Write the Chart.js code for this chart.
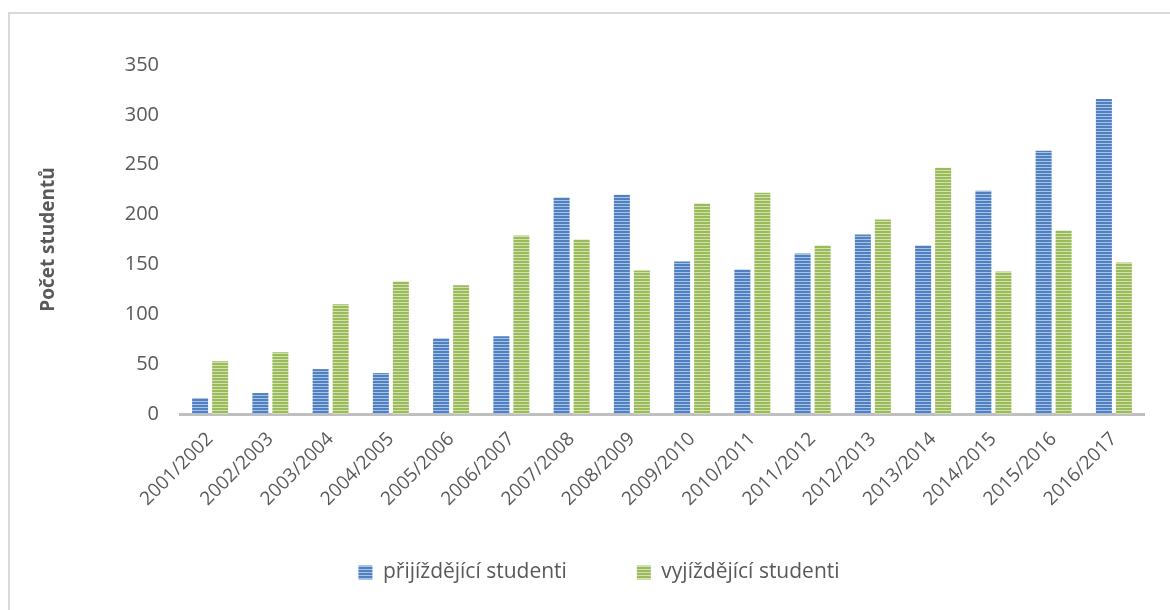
<!DOCTYPE html>
<html>
<head>
<meta charset="utf-8">
<script src="https://cdn.jsdelivr.net/npm/chart.js@4.4.1/dist/chart.umd.min.js"></script>
<style>
    body { margin: 0; background: #fff; }
    #wrap { position: relative; width: 1170px; height: 610px; overflow: hidden; }
    #frame {
        position: absolute; left: 8px; top: 12px; width: 1300px; height: 700px;
        border-left: 2px solid #d9d9d9; border-top: 2px solid #d9d9d9;
    }
    #chart { position: absolute; left: 0; top: 0; }
</style>
</head>
<body>
<div id="wrap">
    <div id="frame"></div>
    <canvas id="chart" width="1170" height="610"></canvas>
</div>
<script>
// Data
const years = ['2001/2002', '2002/2003', '2003/2004', '2004/2005', '2005/2006', '2006/2007',
    '2007/2008', '2008/2009', '2009/2010', '2010/2011', '2011/2012', '2012/2013',
    '2013/2014', '2014/2015', '2015/2016', '2016/2017'];
const incoming = [16, 21, 45, 41, 76, 78, 217, 220, 153, 145, 161, 180, 169, 224, 264, 316];
const outgoing = [53, 62, 110, 133, 129, 179, 175, 144, 211, 222, 169, 195, 247, 143, 184, 152];
const yTicks = [0, 50, 100, 150, 200, 250, 300, 350];

const textColor = '#595959';
const fontFamily = '"Open Sans", "Noto Sans", sans-serif';

// Striped fill like the Excel bars
function stripes(dark, light) {
    const c = document.createElement('canvas');
    c.width = 4;
    c.height = 3;
    const g = c.getContext('2d');
    g.fillStyle = dark;
    g.fillRect(0, 0, 4, 2);
    g.fillStyle = light;
    g.fillRect(0, 2, 4, 1);
    return g.createPattern(c, 'repeat');
}

// nudge the legend a bit to the right, like in the original
const legendShift = {
    id: 'legendShift',
    afterLayout(chart) {
        if (chart.legend) chart.legend.left += 28;
    }
};

function setupChart() {
    const ctx = document.getElementById('chart').getContext('2d');
    const bluePattern = stripes('#4f81c0', '#a9c1e4');
    const greenPattern = stripes('#9bbb59', '#d2e1b4');

    new Chart(ctx, {
        type: 'bar',
        data: {
            labels: years,
            datasets: [{
                label: 'přijíždějící studenti',
                data: incoming,
                backgroundColor: bluePattern,
                borderWidth: 0
            }, {
                label: 'vyjíždějící studenti',
                data: outgoing,
                backgroundColor: greenPattern,
                borderWidth: 0
            }]
        },
        options: {
            responsive: false,
            animation: false,
            categoryPercentage: 0.664,
            barPercentage: 0.8,
            layout: {
                padding: { left: 26, right: 26, top: 65, bottom: 17 }
            },
            scales: {
                x: {
                    grid: { display: false },
                    border: { display: true, color: '#bfbfbf', width: 3 },
                    ticks: {
                        color: textColor,
                        font: { family: fontFamily, size: 19 },
                        maxRotation: 45,
                        minRotation: 45,
                        padding: 6,
                        autoSkip: false
                    },
                    afterFit: function(scale) { scale.height = 78; },
                    // rotated labels reach below the (short) axis box, so don't clip them
                    afterUpdate: function(scale) { scale._computeLabelArea = function() { return undefined; }; }
                },
                y: {
                    min: 0,
                    max: 350,
                    grid: { display: false },
                    border: { display: false },
                    afterBuildTicks: function(scale) {
                        scale.ticks = yTicks.map(v => ({ value: v }));
                    },
                    ticks: {
                        color: textColor,
                        font: { family: fontFamily, size: 20 },
                        padding: 13
                    },
                    title: {
                        display: true,
                        text: 'Počet studentů',
                        color: textColor,
                        font: { family: fontFamily, size: 19, weight: 'bold' },
                        padding: { top: 11, bottom: 0 }
                    },
                    afterFit: function(scale) { scale.width = 154; }
                }
            },
            plugins: {
                legend: {
                    position: 'bottom',
                    labels: {
                        color: textColor,
                        font: { family: fontFamily, size: 21 },
                        boxWidth: 14,
                        boxHeight: 14,
                        padding: 70
                    }
                },
                tooltip: { enabled: false }
            }
        },
        plugins: [legendShift]
    });
}

document.addEventListener('DOMContentLoaded', function() {
    setupChart();
});
</script>
</body>
</html>
